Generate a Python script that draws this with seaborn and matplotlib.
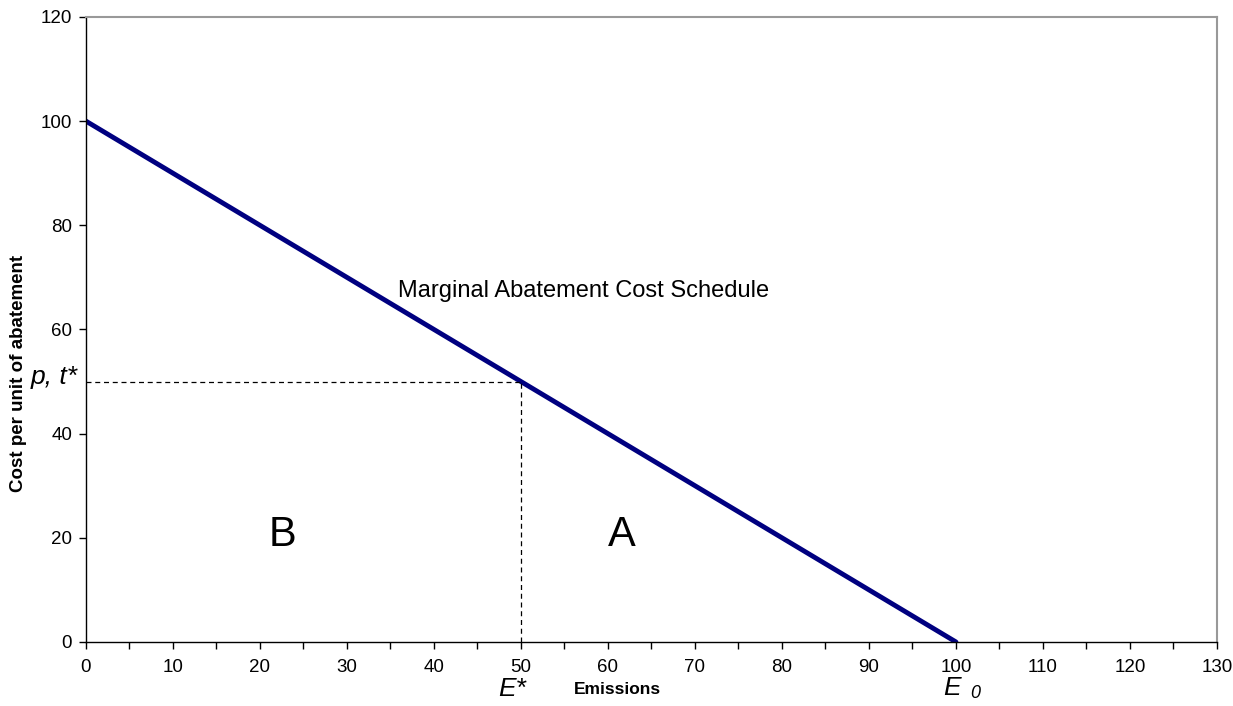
import matplotlib
matplotlib.use("Agg")
import matplotlib.pyplot as plt
from matplotlib.ticker import MultipleLocator
import seaborn as sns
import pandas as pd

# Marginal abatement cost schedule (straight line)
emissions = [0, 100]
cost = [100, 0]

# Equilibrium point
e_star = 50
p_star = 50

sns.set_style("white")
plt.rcParams['font.family'] = ['Liberation Sans', 'DejaVu Sans']
plt.rcParams['text.color'] = 'black'
plt.rcParams['axes.labelcolor'] = 'black'
plt.rcParams['xtick.color'] = 'black'
plt.rcParams['ytick.color'] = 'black'

fig = plt.figure(figsize=(12.33, 7.06), dpi=100)
ax = fig.add_axes([0.0697, 0.0907, 0.9173, 0.8853])

mac = pd.DataFrame({"Emissions": emissions, "Cost": cost})
sns.lineplot(data=mac, x="Emissions", y="Cost", color="#000080", linewidth=3.5, ax=ax)

# dashed guide lines at the equilibrium
ax.plot([0, e_star], [p_star, p_star], color="black", linestyle=(0, (4, 3)), linewidth=0.9)
ax.plot([e_star, e_star], [0, p_star], color="black", linestyle=(0, (4, 3)), linewidth=0.9)

ax.set_xlim(0, 130)
ax.set_ylim(0, 120)
ax.xaxis.set_major_locator(MultipleLocator(10))
ax.xaxis.set_minor_locator(MultipleLocator(5))
ax.yaxis.set_major_locator(MultipleLocator(20))
ax.tick_params(axis="both", which="both", direction="out", length=5, width=1, color="black",
               bottom=True, left=True, labelsize=13.5)
ax.tick_params(axis="x", pad=7)
ax.tick_params(axis="y", pad=5)

for s in ["left", "bottom"]:
    ax.spines[s].set_color("black")
    ax.spines[s].set_linewidth(1)
for s in ["top", "right"]:
    ax.spines[s].set_color("#999999")
    ax.spines[s].set_linewidth(1.5)

ax.set_xlabel("Emissions", fontsize=12.5, fontweight="bold", va="center")
ax.xaxis.set_label_coords(0.4695, -0.076)
ax.set_ylabel("Cost per unit of abatement", fontsize=13.5, fontweight="bold", va="center")
ax.yaxis.set_label_coords(-0.060, 0.43)

ax.text(35.9, 67.4, "Marginal Abatement Cost Schedule", fontsize=17, va="center", ha="left")
ax.text(22.6, 20.5, "B", fontsize=30, ha="center", va="center")
ax.text(61.6, 20.5, "A", fontsize=30, ha="center", va="center")
ax.text(-1.0, 49.6, "p, t*", fontsize=19, style="italic", ha="right", va="baseline")
ax.text(49, -9.0, "E*", fontsize=19, style="italic", ha="center", va="center")
ax.text(99.5, -8.8, "E", fontsize=19, style="italic", ha="center", va="center")
ax.text(102.2, -9.9, "0", fontsize=13, style="italic", ha="center", va="center")

fig.savefig("out.png", dpi=100)
